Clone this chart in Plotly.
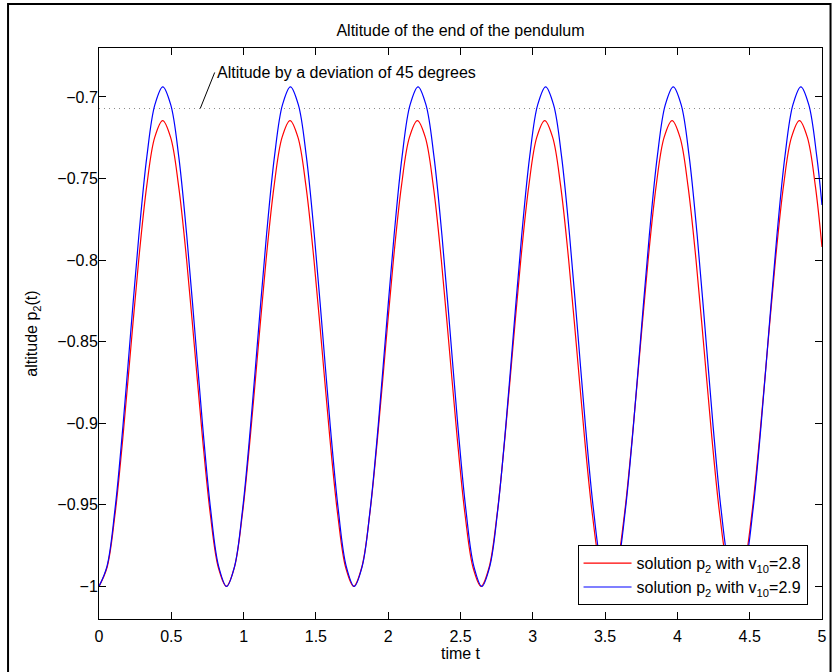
import plotly.graph_objects as go

# ---- data ----
# time samples (s) and altitude p2(t) for v10 = 2.8 (red)
red_t = [0.0, 0.0550, 0.1101, 0.1651, 0.2202, 0.2752, 0.3303, 0.3853, 0.4404, 0.4954, 0.5504, 0.6055, 0.6605, 0.7156, 0.7706, 0.8257,
         0.8807, 0.9357, 0.9908, 1.0458, 1.1009, 1.1559, 1.2110, 1.2660, 1.3211, 1.3761, 1.4311, 1.4862, 1.5412, 1.5963, 1.6513, 1.7064,
         1.7614, 1.8164, 1.8715, 1.9265, 1.9816, 2.0366, 2.0917, 2.1467, 2.2018, 2.2568, 2.3118, 2.3669, 2.4219, 2.4770, 2.5320, 2.5871,
         2.6421, 2.6971, 2.7522, 2.8072, 2.8623, 2.9173, 2.9724, 3.0274, 3.0825, 3.1375, 3.1925, 3.2476, 3.3026, 3.3577, 3.4127, 3.4678,
         3.5228, 3.5778, 3.6329, 3.6879, 3.7430, 3.7980, 3.8531, 3.9081, 3.9632, 4.0182, 4.0732, 4.1283, 4.1833, 4.2384, 4.2934, 4.3485,
         4.4035, 4.4585, 4.5136, 4.5686, 4.6237, 4.6787, 4.7338, 4.7888, 4.8439, 4.8989, 4.9539, 5.0]
red_p2 = [-1.0, -0.9886, -0.9564, -0.9088, -0.8536, -0.7995, -0.7545, -0.7248, -0.7145, -0.7248, -0.7545, -0.7995, -0.8536, -0.9088, -0.9564, -0.9886,
          -1.0, -0.9886, -0.9564, -0.9088, -0.8536, -0.7995, -0.7545, -0.7248, -0.7145, -0.7248, -0.7545, -0.7995, -0.8536, -0.9088, -0.9564, -0.9886,
          -1.0, -0.9886, -0.9564, -0.9088, -0.8536, -0.7995, -0.7545, -0.7248, -0.7145, -0.7248, -0.7545, -0.7995, -0.8536, -0.9088, -0.9564, -0.9886,
          -1.0, -0.9886, -0.9564, -0.9088, -0.8536, -0.7995, -0.7545, -0.7248, -0.7145, -0.7248, -0.7545, -0.7995, -0.8536, -0.9088, -0.9564, -0.9886,
          -1.0, -0.9886, -0.9564, -0.9088, -0.8536, -0.7995, -0.7545, -0.7248, -0.7145, -0.7248, -0.7545, -0.7995, -0.8536, -0.9088, -0.9564, -0.9886,
          -1.0, -0.9886, -0.9564, -0.9088, -0.8536, -0.7995, -0.7545, -0.7248, -0.7145, -0.7248, -0.7545, -0.7920]

# time samples (s) and altitude p2(t) for v10 = 2.9 (blue)
blue_t = [0.0, 0.0552, 0.1103, 0.1655, 0.2206, 0.2758, 0.3309, 0.3861, 0.4413, 0.4964, 0.5516, 0.6067, 0.6619, 0.7170, 0.7722, 0.8273,
          0.8825, 0.9377, 0.9928, 1.0480, 1.1031, 1.1583, 1.2134, 1.2686, 1.3238, 1.3789, 1.4341, 1.4892, 1.5444, 1.5995, 1.6547, 1.7098,
          1.7650, 1.8202, 1.8753, 1.9305, 1.9856, 2.0408, 2.0959, 2.1511, 2.2063, 2.2614, 2.3166, 2.3717, 2.4269, 2.4820, 2.5372, 2.5923,
          2.6475, 2.7027, 2.7578, 2.8130, 2.8681, 2.9233, 2.9784, 3.0336, 3.0888, 3.1439, 3.1991, 3.2542, 3.3094, 3.3645, 3.4197, 3.4748,
          3.5300, 3.5852, 3.6403, 3.6955, 3.7506, 3.8058, 3.8609, 3.9161, 3.9713, 4.0264, 4.0816, 4.1367, 4.1919, 4.2470, 4.3022, 4.3573,
          4.4125, 4.4677, 4.5228, 4.5780, 4.6331, 4.6883, 4.7434, 4.7986, 4.8538, 4.9089, 4.9641, 5.0]
blue_p2 = [-1.0, -0.9877, -0.9530, -0.9019, -0.8427, -0.7848, -0.7366, -0.7049, -0.6938, -0.7049, -0.7366, -0.7848, -0.8427, -0.9019, -0.9530, -0.9877,
           -1.0, -0.9877, -0.9530, -0.9019, -0.8427, -0.7848, -0.7366, -0.7049, -0.6938, -0.7049, -0.7366, -0.7848, -0.8427, -0.9019, -0.9530, -0.9877,
           -1.0, -0.9877, -0.9530, -0.9019, -0.8427, -0.7848, -0.7366, -0.7049, -0.6938, -0.7049, -0.7366, -0.7848, -0.8427, -0.9019, -0.9530, -0.9877,
           -1.0, -0.9877, -0.9530, -0.9019, -0.8427, -0.7848, -0.7366, -0.7049, -0.6938, -0.7049, -0.7366, -0.7848, -0.8427, -0.9019, -0.9530, -0.9877,
           -1.0, -0.9877, -0.9530, -0.9019, -0.8427, -0.7848, -0.7366, -0.7049, -0.6938, -0.7049, -0.7366, -0.7848, -0.8427, -0.9019, -0.9530, -0.9877,
           -1.0, -0.9877, -0.9530, -0.9019, -0.8427, -0.7848, -0.7366, -0.7049, -0.6938, -0.7049, -0.7366, -0.7662]

# reference level: altitude at a 45 degree deviation, -cos(45 deg)
ref_t = [0.0, 5.0]
ref_level = [-0.7071, -0.7071]

# pointer line of the annotation (from the dotted level to the text)
pointer_t = [0.70, 0.80]
pointer_y = [-0.7071, -0.685]
note_text = "Altitude by a deviation of 45 degrees"

x_tickvals = [0, 0.5, 1, 1.5, 2, 2.5, 3, 3.5, 4, 4.5, 5]
x_ticktext = ["0", "0.5", "1", "1.5", "2", "2.5", "3", "3.5", "4", "4.5", "5"]
y_tickvals = [-1.0, -0.95, -0.9, -0.85, -0.8, -0.75, -0.7]
y_ticktext = ["\u22121", "\u22120.95", "\u22120.9", "\u22120.85", "\u22120.8", "\u22120.75", "\u22120.7"]

FONT = "Liberation Sans, Arial, Helvetica, sans-serif"

fig = go.Figure()
fig.add_trace(go.Scatter(x=ref_t, y=ref_level, mode="lines", showlegend=False,
                         line=dict(color="#8c8c8c", width=1, dash="1px,4px")))
fig.add_trace(go.Scatter(x=pointer_t, y=pointer_y, mode="lines", showlegend=False,
                         line=dict(color="black", width=1)))
fig.add_trace(go.Scatter(x=red_t, y=red_p2, mode="lines",
                         name="solution p<sub>2</sub> with v<sub>10</sub>=2.8",
                         line=dict(color="#ff0000", width=1.2, shape="spline")))
fig.add_trace(go.Scatter(x=blue_t, y=blue_p2, mode="lines",
                         name="solution p<sub>2</sub> with v<sub>10</sub>=2.9",
                         line=dict(color="#0000ff", width=1.2, shape="spline")))

fig.add_annotation(x=pointer_t[1], y=pointer_y[1], xref="x", yref="y", text=note_text,
                   showarrow=False, xanchor="left", yanchor="middle", xshift=0,
                   font=dict(family=FONT, size=16, color="black"))

# outer figure frame
fig.add_shape(type="rect", xref="paper", yref="paper",
              x0=-0.1258, x1=1.0118, y0=-0.0999, y1=1.0771,
              line=dict(color="black", width=2), fillcolor="rgba(0,0,0,0)", layer="above")

axis_common = dict(showline=True, linecolor="black", linewidth=1, mirror="ticks",
                   ticks="inside", ticklen=7, tickcolor="black", tickwidth=1,
                   showgrid=False, zeroline=False, automargin=False,
                   tickfont=dict(family=FONT, size=16, color="black"))

fig.update_xaxes(range=[0, 5], tickvals=x_tickvals, ticktext=x_ticktext,
                 ticklabelstandoff=3,
                 title=dict(text="time t", font=dict(family=FONT, size=16, color="black"), standoff=0),
                 **axis_common)
fig.update_yaxes(range=[-1.02, -0.67], tickvals=y_tickvals, ticktext=y_ticktext,
                 ticklabelstandoff=-3,
                 title=dict(text="altitude p<sub>2</sub>(t)", font=dict(family=FONT, size=16, color="black"), standoff=15),
                 **axis_common)

fig.update_layout(
    width=834, height=672,
    margin=dict(l=99, r=12, t=48, b=53, autoexpand=False),
    paper_bgcolor="white", plot_bgcolor="white",
    font=dict(family=FONT, size=16, color="black"),
    title=dict(text="Altitude of the end of the pendulum", x=0.5, xref="paper", xanchor="center",
               y=1 - 30 / 672, yref="container", yanchor="middle", automargin=False,
               font=dict(family=FONT, size=16, color="black")),
    showlegend=True,
    legend=dict(x=0.98, y=0.024, xanchor="right", yanchor="bottom",
                bordercolor="black", borderwidth=1, bgcolor="white",
                itemwidth=48, font=dict(family=FONT, size=16, color="black"),
                tracegroupgap=0),
)

fig.write_html("out.html",
               config={"displayModeBar": False},
               post_script="document.body.style.margin='0';document.body.style.overflow='hidden';")
